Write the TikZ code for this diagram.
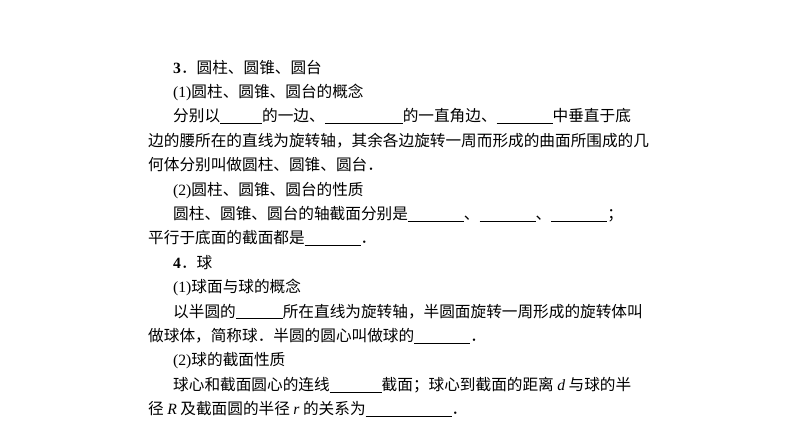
\documentclass[tikz,border=0pt]{standalone}
\usepackage{fontspec}
\setmainfont{Liberation Serif}
\newfontfamily\cjk{Noto Sans CJK SC}
\newcommand{\blk}[1]{\rule[-2pt]{#1pt}{0.6pt}}
\begin{document}
\begin{tikzpicture}[x=1pt,y=-1pt,
  ln/.style={anchor=base west,inner sep=0pt,font=\fontsize{15.65}{16}\selectfont\cjk}]
\useasboundingbox (0,0) rectangle (794,447);
\node[ln] (l1) at (173,73) {{\rmfamily\bfseries 3}．圆柱、圆锥、圆台};
\node[ln] (l2) at (173,97.4) {{\rmfamily (1)}圆柱、圆锥、圆台的概念};
\node[ln] (l3) at (173,121.8) {分别以\blk{42}的一边、\blk{78}的一直角边、\blk{56}中垂直于底};
\node[ln] (l4) at (148,146.2) {边的腰所在的直线为旋转轴，其余各边旋转一周而形成的曲面所围成的几};
\node[ln] (l5) at (148,170.6) {何体分别叫做圆柱、圆锥、圆台．};
\node[ln] (l6) at (173,195) {{\rmfamily (2)}圆柱、圆锥、圆台的性质};
\node[ln] (l7) at (173,219.4) {圆柱、圆锥、圆台的轴截面分别是\blk{56}、\blk{56}、\blk{56}；};
\node[ln] (l8) at (148,243.8) {平行于底面的截面都是\blk{56}．};
\node[ln] (l9) at (173,268.2) {{\rmfamily\bfseries 4}．球};
\node[ln] (l10) at (173,292.6) {{\rmfamily (1)}球面与球的概念};
\node[ln] (l11) at (173,317) {以半圆的\blk{47}所在直线为旋转轴，半圆面旋转一周形成的旋转体叫};
\node[ln] (l12) at (148,341.4) {做球体，简称球．半圆的圆心叫做球的\blk{56}．};
\node[ln] (l13) at (173,365.8) {{\rmfamily (2)}球的截面性质};
\node[ln] (l14) at (173,390.2) {球心和截面圆心的连线\blk{52}截面；球心到截面的距离 {\rmfamily\itshape d} 与球的半};
\node[ln] (l15) at (148,414.6) {径 {\rmfamily\itshape R} 及截面圆的半径 {\rmfamily\itshape r} 的关系为\blk{86}．};
\end{tikzpicture}
\end{document}
